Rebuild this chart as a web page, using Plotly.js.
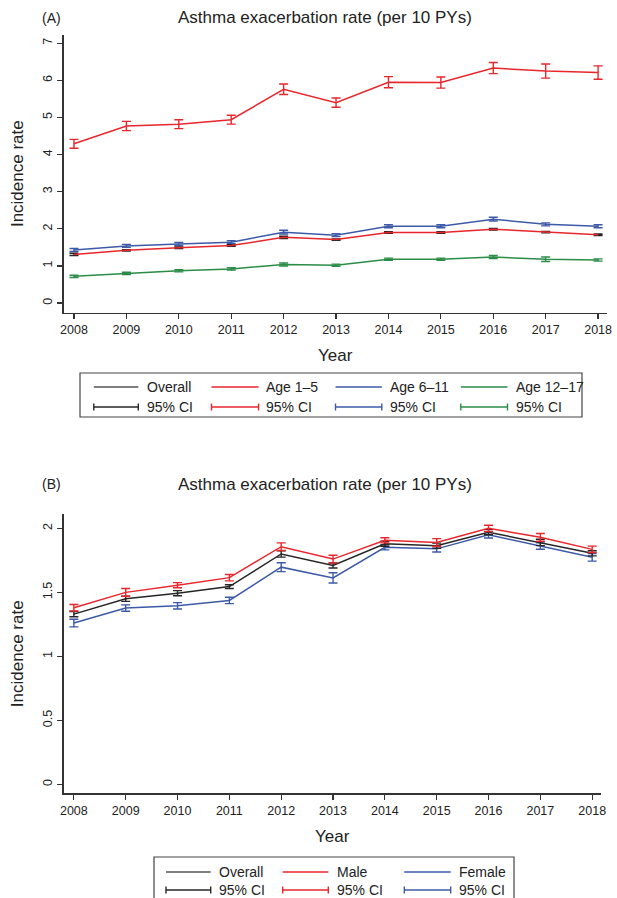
<!DOCTYPE html>
<html>
<head>
<meta charset="utf-8">
<script src="https://cdn.plot.ly/plotly-3.0.1.min.js"></script>
<style>html,body{margin:0;padding:0;background:#fff;}#chart{width:617px;height:898px;}</style>
</head>
<body>
<div id="chart"></div>
<script>
// ---------- data ----------
const years = [2008, 2009, 2010, 2011, 2012, 2013, 2014, 2015, 2016, 2017, 2018];

// Panel A
const aOverall   = [1.31, 1.42, 1.49, 1.55, 1.77, 1.71, 1.90, 1.90, 1.99, 1.91, 1.84];
const aOverallCI = [0.03, 0.02, 0.02, 0.02, 0.03, 0.02, 0.02, 0.02, 0.02, 0.02, 0.02];
const aAge1      = [4.29, 4.77, 4.82, 4.94, 5.76, 5.40, 5.95, 5.94, 6.33, 6.25, 6.21];
const aAge1CI    = [0.12, 0.125, 0.12, 0.12, 0.14, 0.125, 0.15, 0.15, 0.15, 0.19, 0.18];
const aAge6      = [1.43, 1.54, 1.59, 1.64, 1.91, 1.83, 2.07, 2.07, 2.26, 2.12, 2.07];
const aAge6CI    = [0.04, 0.04, 0.04, 0.04, 0.05, 0.04, 0.04, 0.04, 0.05, 0.04, 0.04];
const aAge12     = [0.72, 0.80, 0.87, 0.92, 1.04, 1.02, 1.18, 1.18, 1.24, 1.18, 1.16];
const aAge12CI   = [0.03, 0.03, 0.03, 0.03, 0.04, 0.03, 0.03, 0.03, 0.04, 0.06, 0.03];

// Panel B
const bOverall   = [1.33, 1.45, 1.494, 1.545, 1.80, 1.71, 1.88, 1.865, 1.97, 1.89, 1.805];
const bOverallCI = [0.02, 0.02, 0.02, 0.015, 0.025, 0.02, 0.02, 0.02, 0.02, 0.025, 0.02];
const bMale      = [1.38, 1.50, 1.556, 1.615, 1.857, 1.76, 1.907, 1.89, 2.00, 1.93, 1.836];
const bMaleCI    = [0.025, 0.03, 0.02, 0.025, 0.03, 0.03, 0.02, 0.03, 0.025, 0.03, 0.025];
const bFemale    = [1.26, 1.377, 1.395, 1.437, 1.697, 1.613, 1.852, 1.84, 1.95, 1.862, 1.774];
const bFemaleCI  = [0.03, 0.025, 0.025, 0.025, 0.035, 0.04, 0.02, 0.025, 0.025, 0.025, 0.03];

const yTicksA = [0, 1, 2, 3, 4, 5, 6, 7];
const yTicksB = [0, 0.5, 1, 1.5, 2];
const yTickTextB = ['0', '0.5', '1', '1.5', '2'];

const titleText = 'Asthma exacerbation rate (per 10 PYs)';
const legendA = ['Overall', 'Age 1–5', 'Age 6–11', 'Age 12–17'];
const legendB = ['Overall', 'Male', 'Female'];
const ciLabel = '95% CI';

// ---------- style ----------
const RED = '#e8262c', BLUE = '#3d5aa8', GREEN = '#2a8c46', BLACK = '#262626';
const FONT = 'Liberation Sans, Arial, Helvetica, sans-serif';
const TXT = '#222';
const W = 617, H = 898;
const px = x => x / W;
const py = y => 1 - y / H;

function tr(x, y, ci, color, ecolor, xa, ya) {
  return {
    type: 'scatter', mode: 'lines', x: x, y: y, xaxis: xa, yaxis: ya,
    line: {color: color, width: 1.5},
    error_y: {type: 'data', array: ci, visible: true, color: ecolor, thickness: 1.4, width: 4.5},
    showlegend: false, hoverinfo: 'x+y'
  };
}

const data = [
  tr(years, aAge12, aAge12CI, GREEN, GREEN, 'x', 'y'),
  tr(years, aAge6, aAge6CI, BLUE, BLUE, 'x', 'y'),
  tr(years, aOverall, aOverallCI, RED, BLACK, 'x', 'y'),
  tr(years, aAge1, aAge1CI, RED, RED, 'x', 'y'),
  tr(years, bFemale, bFemaleCI, BLUE, BLUE, 'x2', 'y2'),
  tr(years, bOverall, bOverallCI, BLACK, BLACK, 'x2', 'y2'),
  tr(years, bMale, bMaleCI, RED, RED, 'x2', 'y2')
];

const axisCommon = {
  showgrid: false, zeroline: false, showline: true, linecolor: '#333', linewidth: 1.3,
  ticks: 'outside', ticklen: 5, tickwidth: 1.2, tickcolor: '#333',
  tickfont: {family: FONT, size: 12.5, color: TXT}
};

const layout = {
  width: W, height: H, margin: {l: 0, r: 0, t: 0, b: 0},
  paper_bgcolor: '#fff', plot_bgcolor: '#fff',
  font: {family: FONT, color: TXT},
  showlegend: false,
  xaxis: Object.assign({}, axisCommon, {
    domain: [px(63.5), px(607)], range: [2007.8, 2018.17], anchor: 'y',
    tickvals: years, ticktext: years.map(String),
    title: {text: 'Year', font: {family: FONT, size: 17, color: TXT}, standoff: 13}
  }),
  yaxis: Object.assign({}, axisCommon, {
    domain: [py(312.7), py(34.7)], range: [-0.26, 7.23], anchor: 'x',
    tickvals: yTicksA, ticktext: yTicksA.map(String), tickangle: -90,
    title: {text: 'Incidence rate', font: {family: FONT, size: 17, color: TXT}, standoff: 13}
  }),
  xaxis2: Object.assign({}, axisCommon, {
    domain: [px(63.5), px(601)], range: [2007.8, 2018.17], anchor: 'y2',
    tickvals: years, ticktext: years.map(String),
    title: {text: 'Year', font: {family: FONT, size: 17, color: TXT}, standoff: 13}
  }),
  yaxis2: Object.assign({}, axisCommon, {
    domain: [py(793.3), py(514.3)], range: [-0.07, 2.11], anchor: 'x2',
    tickvals: yTicksB, ticktext: yTickTextB, tickangle: -90,
    title: {text: 'Incidence rate', font: {family: FONT, size: 17, color: TXT}, standoff: 13}
  }),
  shapes: [],
  annotations: []
};

function ann(text, x, y, size, xanchor) {
  layout.annotations.push({
    xref: 'paper', yref: 'paper', x: px(x), y: py(y), text: text, showarrow: false,
    xanchor: xanchor || 'center', yanchor: 'middle',
    font: {family: FONT, size: size, color: TXT}
  });
}
function seg(x0, y0, x1, y1, color, w) {
  layout.shapes.push({type: 'line', xref: 'paper', yref: 'paper',
    x0: px(x0), y0: py(y0), x1: px(x1), y1: py(y1), line: {color: color, width: w || 1.4}});
}
function ciSym(x0, x1, y, color) {
  seg(x0, y, x1, y, color, 1.4);
  seg(x0, y - 3.5, x0, y + 3.5, color, 1.4);
  seg(x1, y - 3.5, x1, y + 3.5, color, 1.4);
}
function box(x0, y0, x1, y1) {
  layout.shapes.push({type: 'rect', xref: 'paper', yref: 'paper',
    x0: px(x0), y0: py(y0), x1: px(x1), y1: py(y1), line: {color: '#444', width: 1.2}, fillcolor: 'rgba(0,0,0,0)'});
}

// Titles
ann('(A)', 51, 18, 14);
ann(titleText, 325, 18, 17);
ann('(B)', 51, 484, 14);
ann(titleText, 325, 485, 17);

// Legend A
box(80, 373, 582, 417);
const colsA = [[93.8, 138.3, 145, BLACK], [211.5, 258.6, 264, RED], [335.5, 381.8, 388, BLUE], [460.8, 507.5, 514, GREEN]];
colsA.forEach((c, i) => {
  seg(c[0], 387, c[1], 387, c[3] === BLACK ? '#555' : c[3], 1.4);
  ann(legendA[i], c[2], 387, 14, 'left');
  ciSym(c[0], c[1], 407, c[3]);
  ann(ciLabel, c[2], 407, 14, 'left');
});

// Legend B
box(154, 857, 514, 904);
const colsB = [[166, 210.7, 216.7, BLACK], [282.7, 328.3, 335, RED], [404.3, 450.7, 456.7, BLUE]];
colsB.forEach((c, i) => {
  seg(c[0], 872, c[1], 872, c[3] === BLACK ? '#555' : c[3], 1.4);
  ann(legendB[i], c[2], 872, 14, 'left');
  ciSym(c[0], c[1], 890, c[3]);
  ann(ciLabel, c[2], 890, 14, 'left');
});

Plotly.newPlot('chart', data, layout, {displayModeBar: false, staticPlot: true});
</script>
</body>
</html>
